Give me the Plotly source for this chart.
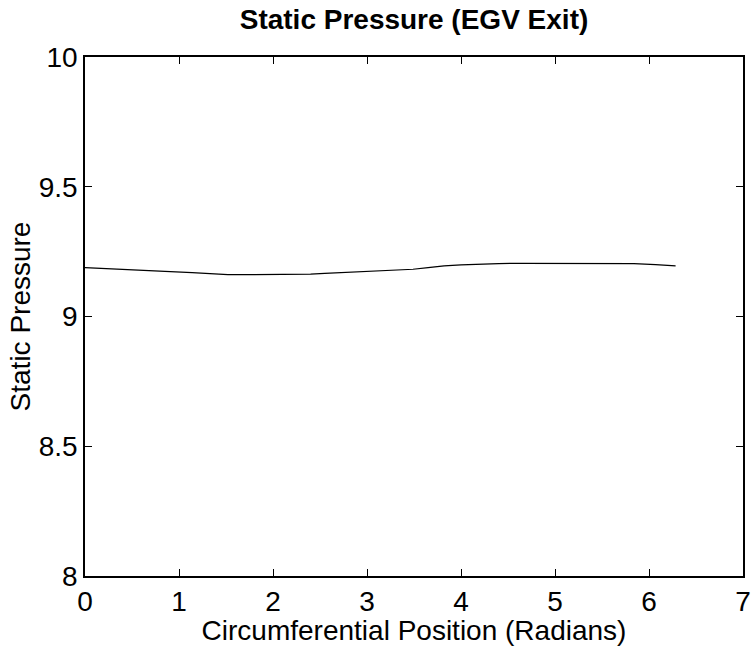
import plotly.graph_objects as go

# circumferential position (radians) and static pressure
theta = [0.0, 0.3, 0.58, 0.85, 1.14, 1.35, 1.52, 1.8, 2.17, 2.4, 2.55, 2.85, 3.11,
         3.3, 3.49, 3.65, 3.82, 4.0, 4.19, 4.4, 4.66, 5.0, 5.3, 5.51, 5.84, 6.07, 6.283]
pressure = [9.188, 9.184, 9.179, 9.174, 9.169, 9.164, 9.161, 9.161, 9.161, 9.163,
            9.166, 9.171, 9.177, 9.179, 9.182, 9.188, 9.195, 9.199, 9.202, 9.204,
            9.205, 9.205, 9.205, 9.205, 9.204, 9.200, 9.195]

x_ticks = [0, 1, 2, 3, 4, 5, 6, 7]
y_ticks = [8, 8.5, 9, 9.5, 10]
y_tick_text = ["8", "8.5", "9", "9.5", "10"]

FONT = "Liberation Sans, Arial, Helvetica, sans-serif"

fig = go.Figure()
fig.add_trace(go.Scatter(x=theta, y=pressure, mode="lines",
                         line=dict(color="black", width=1.2), showlegend=False))

axis_common = dict(
    showline=True, linecolor="black", linewidth=1.5, mirror="ticks",
    ticks="inside", ticklen=7, tickwidth=1, tickcolor="black",
    showgrid=False, zeroline=False, automargin=False,
    tickfont=dict(family=FONT, size=28, color="black"),
)

fig.update_xaxes(range=[0, 7], tickvals=x_ticks,
                 title=dict(text="Circumferential Position (Radians)",
                            font=dict(family=FONT, size=28, color="black"), standoff=0),
                 ticklabelstandoff=0, **axis_common)
fig.update_yaxes(range=[8, 10], tickvals=y_ticks, ticktext=y_tick_text,
                 title=dict(text="Static Pressure",
                            font=dict(family=FONT, size=28, color="black"), standoff=0),
                 ticklabelstandoff=0, **axis_common)

fig.update_layout(
    width=751, height=646,
    margin=dict(l=85, r=8, t=57, b=70),
    paper_bgcolor="white", plot_bgcolor="white",
    title=dict(text="<b>Static Pressure (EGV Exit)</b>", x=0.5, xref="paper",
               xanchor="center", y=0.985, yref="container", yanchor="top",
               font=dict(family=FONT, size=28, color="black")),
)

# remove the browser's default 8px body margin so the figure fills the window
fig.write_html("out.html", config={"displayModeBar": False},
               post_script="document.body.style.margin='0px';")
